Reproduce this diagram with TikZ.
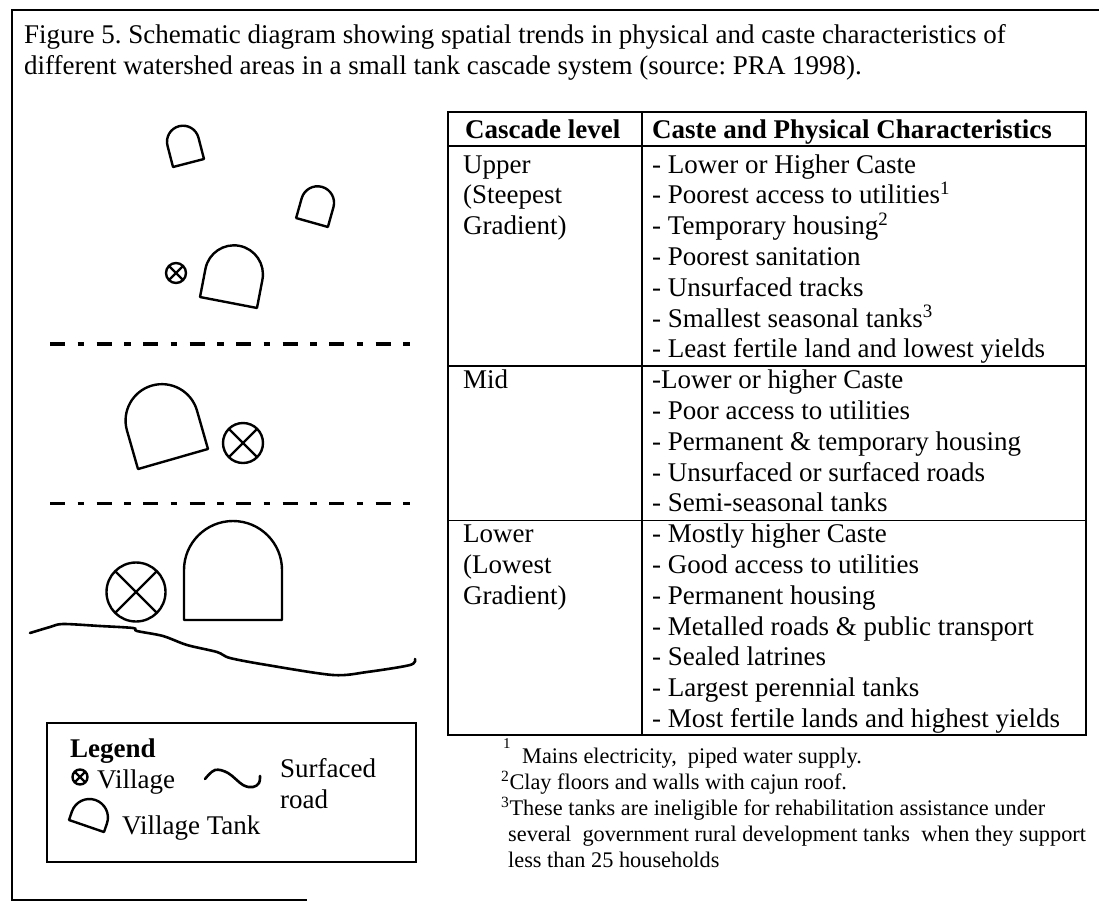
\documentclass[tikz,border=0pt]{standalone}
\usepackage{fontspec}
\setmainfont{Liberation Serif}
\frenchspacing
\newcommand{\tankat}[5]{\draw[outl,shift={(#1,#2)},rotate=#3] (-#4,0) -- (-#4,-#5) arc[start angle=180,end angle=360,radius=#4] -- (#4,0) -- cycle;}
\newcommand{\villageat}[4][outl]{\draw[#1,shift={(#2,#3)}] (0,0) circle[radius=#4] ({-0.7071*#4},{-0.7071*#4}) -- ({0.7071*#4},{0.7071*#4}) ({-0.7071*#4},{0.7071*#4}) -- ({0.7071*#4},{-0.7071*#4});}
\begin{document}
\begin{tikzpicture}[x=1pt,y=-1pt,
  outerframe/.style={line width=2pt},
  tabline/.style={line width=1.6pt},
  outl/.style={line width=2.4pt, line join=round},
  road/.style={line width=2.6pt, line cap=round},
  sepline/.style={line width=3.5pt, dash pattern=on 15pt off 12.5pt on 6.5pt off 12.5pt},
  txt/.style={anchor=base west, inner sep=0pt, font=\fontsize{27}{31}\selectfont},
  btxt/.style={anchor=base west, inner sep=0pt, font=\fontsize{27}{31}\selectfont\bfseries},
  fn/.style={anchor=base west, inner sep=0pt, font=\fontsize{22.3}{26}\selectfont}]
\useasboundingbox (0,0) rectangle (1099,902);
% outer frame
\draw[outerframe] (1099,10) -- (12,10) -- (12,900) -- (307,900);
% title
\node[txt] (t1) at (24,43) {Figure 5. Schematic diagram showing spatial trends in physical and caste characteristics of};
\node[txt] (t2) at (24,74) {different watershed areas in a small tank cascade system (source: PRA 1998).};
% table
\draw[tabline] (448,112) rectangle (1086,735);
\draw[tabline] (642,112) -- (642,735);
\draw[tabline] (448,146) -- (1086,146);
\draw[tabline] (448,366) -- (1086,366);
\draw[tabline] (448,520.5) -- (1086,520.5);
\node[btxt] (h1) at (465,138) {Cascade level};
\node[btxt] (h2) at (652,138) {Caste and Physical Characteristics};
\node[txt] (ul0) at (463,173) {Upper};
\node[txt] (ul1) at (463,203.8) {(Steepest};
\node[txt] (ul2) at (463,234.6) {Gradient)};
\node[txt] (ml0) at (463,388.6) {Mid};
\node[txt] (ll0) at (463,542.6) {Lower};
\node[txt] (ll1) at (463,573.4) {(Lowest};
\node[txt] (ll2) at (463,604.2) {Gradient)};
\foreach \t [count=\i from 0] in {{- Lower or Higher Caste},{- Poorest access to utilities\textsuperscript{1}},{- Temporary housing\textsuperscript{2}},{- Poorest sanitation},{- Unsurfaced tracks},{- Smallest seasonal tanks\textsuperscript{3}},{- Least fertile land and lowest yields}}
  \node[txt] (ur\i) at (652,{173+30.8*\i}) {\t};
\foreach \t [count=\i from 0] in {{-Lower or higher Caste},{- Poor access to utilities},{- Permanent \& temporary housing},{- Unsurfaced or surfaced roads},{- Semi-seasonal tanks}}
  \node[txt] (mr\i) at (652,{388.6+30.8*\i}) {\t};
\foreach \t [count=\i from 0] in {{- Mostly higher Caste},{- Good access to utilities},{- Permanent housing},{- Metalled roads \& public transport},{- Sealed latrines},{- Largest perennial tanks},{- Most fertile lands and highest yields}}
  \node[txt] (lr\i) at (652,{542.6+30.8*\i}) {\t};
% footnotes
\node[fn, font=\fontsize{15}{15}\selectfont] (f0) at (503,748) {1};
\node[fn] (f1) at (522,763) {Mains electricity,\ \ piped water supply.};
\node[fn] (f2) at (501,789) {\textsuperscript{2}Clay floors and walls with cajun roof.};
\node[fn] (f3) at (501,815) {\textsuperscript{3}These tanks are ineligible for rehabilitation assistance under};
\node[fn] (f4) at (508,841) {several\ \ government rural development tanks\ \ when they support};
\node[fn] (f5) at (508,867) {less than 25 households};
% map: tanks
\tankat{188.5}{163}{14.5}{16}{22}
\tankat{312}{222.5}{-15.7}{16.5}{20.5}
\tankat{228.5}{302.5}{-10.9}{29}{28.7}
\tankat{173}{459}{16}{36.4}{40}
\tankat{233}{620}{0}{49}{50}
% villages
\villageat{176}{273}{10}
\villageat{243}{443}{20}
\villageat{136}{592}{29.5}
% watershed separators
\draw[sepline] (50,344) -- (410,344);
\draw[sepline] (50,503.5) -- (410,503.5);
% road
\draw[road] plot[smooth,tension=0.5] coordinates {(30,633) (50,627) (63,624) (100,626) (133,628) (137,631) (163,636) (187,645) (217,652) (230,658) (267,665) (333,675) (367,672) (410,665) (415,659)};
% legend
\draw[tabline, line width=2.2pt] (47,723) rectangle (416,862);
\node[btxt] (lg) at (70,757) {Legend};
\villageat[line width=2.4pt]{80}{777}{7.5}
\node[txt] (lv) at (97,788) {Village};
\draw[road] plot[smooth,tension=0.6] coordinates {(205,779) (215,770) (228,773) (243,785) (253,787) (259,783) (260,776)};
\node[txt] (ls) at (280,777) {Surfaced};
\node[txt] (lrd) at (280,808) {road};
\tankat{86.5}{826}{-19}{18.5}{9}
\node[txt] (lt) at (122,834) {Village Tank};
\end{tikzpicture}
\end{document}
